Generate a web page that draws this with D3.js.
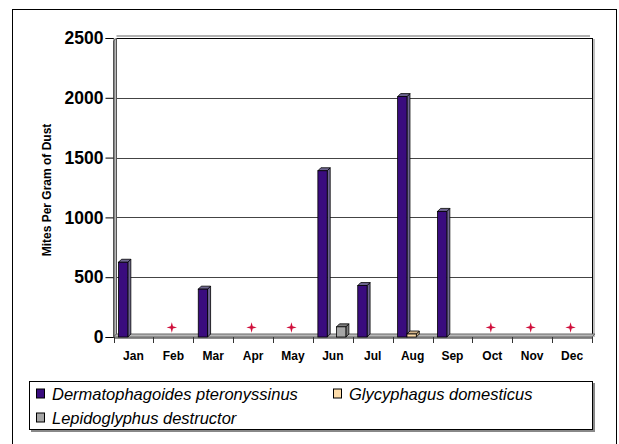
<!DOCTYPE html>
<html>
<head>
<meta charset="utf-8">
<script src="https://cdn.jsdelivr.net/npm/d3@7"></script>
<style>
  body { margin: 0; background: #fff; }
  svg { display: block; font-family: "Liberation Sans", Arial, sans-serif; }
</style>
</head>
<body>
<svg width="619" height="444"></svg>
<script>
// chart data
var months = ["Jan", "Feb", "Mar", "Apr", "May", "Jun", "Jul", "Aug", "Sep", "Oct", "Nov", "Dec"];
var seriesNames = ["Dermatophagoides pteronyssinus", "Glycyphagus domesticus", "Lepidoglyphus destructor"];
var dermatophagoides = [625, null, 400, null, null, 1390, 430, 2010, 1050, null, null, null];
var glycyphagus = [null, null, null, null, null, null, null, 25, null, null, null, null];
var lepidoglyphus = [null, null, null, null, null, 85, null, null, null, null, null, null];
var notSampled = ["Feb", "Apr", "May", "Oct", "Nov", "Dec"];
var yTicks = [0, 500, 1000, 1500, 2000, 2500];

var svg = d3.select("svg");

// colours per series: front, side/top
var colors = [
  { front: "#3a0c7e", side: "#6e6690" },
  { front: "#fddcaa", side: "#d2b48a" },
  { front: "#a6a6a6", side: "#7e7e7e" }
];

var plotLeft = 113.5, plotRight = 592, plotTop = 38, plotBottom = 337;
var depth = 3;

var x = d3.scaleBand().domain(months).range([plotLeft, plotRight]);
var x1 = d3.scaleBand().domain(seriesNames).range([5, 33]);
var y = d3.scaleLinear().domain([0, 2500]).range([plotBottom, plotTop]);

// outer frame
svg.append("rect")
  .attr("x", 12.5).attr("y", 9.5)
  .attr("width", 604).attr("height", 445)
  .attr("fill", "none").attr("stroke", "#000");

// back wall shadow lines
svg.append("line")
  .attr("x1", plotLeft + depth).attr("x2", plotRight - 2)
  .attr("y1", plotTop - 2).attr("y2", plotTop - 2)
  .attr("stroke", "#999").attr("stroke-width", 1.5);
svg.append("line")
  .attr("x1", plotRight + 2).attr("x2", plotRight + 2)
  .attr("y1", plotTop + 1).attr("y2", plotBottom)
  .attr("stroke", "#aaa").attr("stroke-width", 1.5);

// gridlines
svg.append("g")
  .selectAll("line")
  .data(yTicks.filter(function(d) { return d > 0; }))
  .enter()
  .append("line")
    .attr("x1", plotLeft + depth).attr("x2", plotRight)
    .attr("y1", function(d) { return Math.round(y(d)) + 0.5; })
    .attr("y2", function(d) { return Math.round(y(d)) + 0.5; })
    .attr("stroke", function(d) { return d === 2500 ? "#000" : "#444"; })
    .attr("stroke-width", function(d) { return d === 2500 ? 1.2 : 1; });

// right edge
svg.append("line")
  .attr("x1", plotRight + 0.5).attr("x2", plotRight + 0.5)
  .attr("y1", plotTop).attr("y2", plotBottom)
  .attr("stroke", "#000");

// left wall
svg.append("path")
  .attr("d", "M" + plotLeft + "," + (plotTop + depth) + "L" + (plotLeft + depth) + "," + plotTop +
             "L" + (plotLeft + depth) + "," + (plotBottom - depth) + "L" + plotLeft + "," + plotBottom + "Z")
  .attr("fill", "#b8b8b8").attr("stroke", "#555").attr("stroke-width", 1);

// floor
svg.append("path")
  .attr("d", "M" + plotLeft + "," + plotBottom + "L" + (plotLeft + depth) + "," + (plotBottom - depth) +
             "L" + (plotRight + depth) + "," + (plotBottom - depth) + "L" + plotRight + "," + plotBottom + "Z")
  .attr("fill", "#b8b8b8").attr("stroke", "#666").attr("stroke-width", 1);

// y axis
var yAxis = svg.append("g")
  .attr("transform", "translate(" + plotLeft + ",0)")
  .call(d3.axisLeft(y).tickValues(yTicks).tickSize(8).tickPadding(2).tickFormat(d3.format("d")));
yAxis.select(".domain").attr("stroke", "#555");
yAxis.selectAll("text")
  .attr("font-size", "17.5px").attr("font-weight", "bold").attr("fill", "#000")
  .attr("font-family", "'Liberation Sans', Arial, sans-serif");

// x axis
var xAxis = svg.append("g")
  .attr("transform", "translate(0," + (plotBottom + 0.5) + ")")
  .call(d3.axisBottom(x).tickSize(0).tickPadding(14));
xAxis.select(".domain").attr("stroke", "#666").attr("stroke-width", 1.5);
xAxis.selectAll("text")
  .attr("font-size", "12px").attr("font-weight", "bold").attr("fill", "#000")
  .attr("font-family", "'Liberation Sans', Arial, sans-serif");
// tick marks at category boundaries
svg.append("g")
  .selectAll("line")
  .data(months.concat(["end"]))
  .enter()
  .append("line")
    .attr("x1", function(d, i) { return Math.round(plotLeft + i * x.bandwidth()) + 0.5; })
    .attr("x2", function(d, i) { return Math.round(plotLeft + i * x.bandwidth()) + 0.5; })
    .attr("y1", plotBottom).attr("y2", plotBottom + 6)
    .attr("stroke", "#333");

// y axis title
svg.append("text")
  .attr("transform", "translate(51,190) rotate(-90)")
  .attr("text-anchor", "middle")
  .attr("font-size", "12px").attr("font-weight", "bold")
  .text("Mites Per Gram of Dust");

// 3D bars
var allSeries = [dermatophagoides, glycyphagus, lepidoglyphus];
var barData = [];
allSeries.forEach(function(vals, s) {
  vals.forEach(function(v, i) {
    if (v !== null) barData.push({ month: months[i], series: s, value: v });
  });
});

var bars = svg.append("g")
  .selectAll("g")
  .data(barData)
  .enter()
  .append("g");

bars.each(function(d) {
  var g = d3.select(this);
  var bx = x(d.month) + x1(seriesNames[d.series]);
  var bw = x1.bandwidth();
  var by = y(d.value), b0 = y(0);
  var c = colors[d.series];
  // side face
  g.append("path")
    .attr("d", "M" + (bx + bw) + "," + by + "L" + (bx + bw + depth) + "," + (by - depth) +
               "L" + (bx + bw + depth) + "," + (b0 - depth) + "L" + (bx + bw) + "," + b0 + "Z")
    .attr("fill", c.side).attr("stroke", "#000").attr("stroke-width", 0.8);
  // top face
  g.append("path")
    .attr("d", "M" + bx + "," + by + "L" + (bx + depth) + "," + (by - depth) +
               "L" + (bx + bw + depth) + "," + (by - depth) + "L" + (bx + bw) + "," + by + "Z")
    .attr("fill", c.side).attr("stroke", "#000").attr("stroke-width", 0.8);
  // front face
  g.append("rect")
    .attr("x", bx).attr("y", by)
    .attr("width", bw).attr("height", b0 - by)
    .attr("fill", c.front).attr("stroke", "#000").attr("stroke-width", 0.8);
});

// four-point star markers for months without samples
var star4 = {
  draw: function(context, size) {
    var r = Math.sqrt(size) / 2, w = r * 0.22;
    context.moveTo(0, -r);
    context.lineTo(w, -w);
    context.lineTo(r, 0);
    context.lineTo(w, w);
    context.lineTo(0, r);
    context.lineTo(-w, w);
    context.lineTo(-r, 0);
    context.lineTo(-w, -w);
    context.closePath();
  }
};
svg.append("g")
  .selectAll("path")
  .data(notSampled)
  .enter()
  .append("path")
    .attr("d", d3.symbol().type(star4).size(110))
    .attr("transform", function(d) { return "translate(" + (x(d) + x.bandwidth() / 2 - 1.5) + "," + y(80) + ")"; })
    .attr("fill", "#d0103c");

// legend
svg.append("rect")
  .attr("x", 31).attr("y", 383).attr("width", 564).attr("height", 49)
  .attr("fill", "#888");
svg.append("rect")
  .attr("x", 29.5).attr("y", 381.5).attr("width", 563).attr("height", 48)
  .attr("fill", "#fff").attr("stroke", "#000");

var legendPos = [
  { x: 36, y: 393.5 },
  { x: 333, y: 393.5 },
  { x: 36, y: 417.5 }
];
var legend = svg.append("g")
  .selectAll("g")
  .data(seriesNames)
  .enter()
  .append("g")
    .attr("transform", function(d, i) { return "translate(" + legendPos[i].x + "," + legendPos[i].y + ")"; });
legend.append("rect")
  .attr("x", 0.5).attr("y", -4.5).attr("width", 8).attr("height", 9)
  .attr("fill", function(d, i) { return colors[i].front; })
  .attr("stroke", "#000");
legend.append("text")
  .attr("x", 16).attr("y", 6)
  .attr("font-size", "16.5px").attr("font-style", "italic")
  .text(function(d) { return d; });
</script>
</body>
</html>
